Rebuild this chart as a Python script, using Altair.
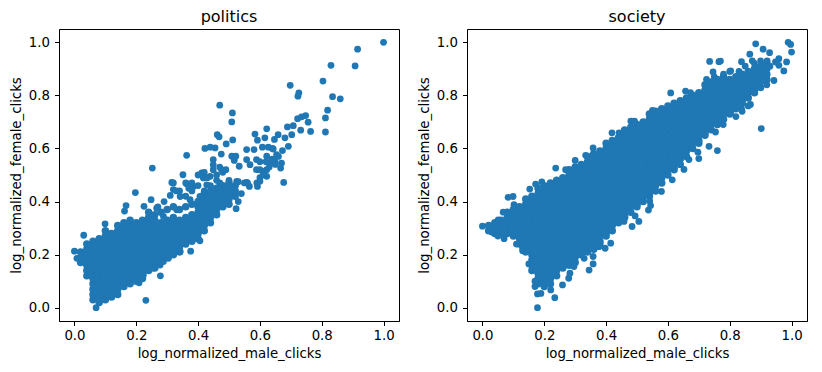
import altair as alt
import pandas as pd

# Columns hold female-click values in hundredths.
politics_columns = [.02,.04,.06,.08,.10,.12,.14,.16,.18,.20,.22,.24,.26,.28,.30,.32,.34,.36,.38,.40,.42,.44,.46,.48,.50,.52]
politics_female = [
 [17,19,21],
 [12,14,16,18,20,22,24],
 [3,5,7,9,11,13,15,17,19,21,23,25],
 [2,4,6,8,10,12,14,16,18,20,22,24,26],
 [3,5,7,9,11,13,15,17,19,21,23,25,27,29],
 [4,6,8,10,12,14,16,18,20,22,24,26,28],
 [5,7,9,11,13,15,17,19,21,23,25,27,29,31],
 [8,10,12,14,16,18,20,22,24,26,28,30,32],
 [9,11,13,15,17,19,21,23,25,27,29,31,33],
 [10,12,14,16,18,20,22,24,26,28,30,32],
 [11,13,15,17,19,21,23,25,27,29,31,33],
 [14,16,18,20,22,24,26,28,30,32,34,36],
 [15,17,19,21,23,25,27,29,31,33,35],
 [18,20,22,24,26,28,30,32,36],
 [19,21,23,25,27,29,31,33,37],
 [20,22,24,26,28,30,32,34,38],
 [21,23,25,27,29,31,33,37],
 [24,26,28,30,32,34,38],
 [25,27,29,31,33,35,39],
 [26,28,30,32,34,36,38,40],
 [29,31,33,35,37,39,41,43],
 [32,34,36,38,40,42,44],
 [35,37,39,41,43,45],
 [38,40,42,44,46],
 [39,41,43,45,47],
 [42,44,46],
]
politics_extra_x = [1.0,.916,.83,.908,.804,.698,.726,.723,.835,.86,.47,.511,.509,.819,.812,.812,.764,.756,.748,.735,.722,.708,.689,.703,.732,.622,.584,.592,.616,.681,.659,.647,.692,.673,.608,.627,.643,.557,.581,.462,.468,.512,.491,.439,.455,.422,.475,.363,.509,.522,.517,.449,.557,.589,.568,.533,.252,.351,.412,.449,.449,.476,.417,.439,.315,.32,.31,.363,.385,.197,.248,.167,.162,.099,.03,0,.008,.231,.278,.376,.406,.677,.592,.6,.622,.667,.67,.649,.622,.622,.589,.611,.638,.654,.557,.566,.523,.53,.503,.525,.492,.465,.428,.406,.342,.374,.225,.266,.288,.331,.288,.277,.253,.304,.223,.209,.342,.07,.54,.56,.50,.47,.40,.38,.44,.42,.38,.40,.42,.43,.46,.48,.49,.47,.46,.53,.55,.36,.37,.34,.32,.33,.36,.27,.29,.60,.62,.64,.65,.66,.63,.60,.61,.59,.64,.60]
politics_extra_y = [1.0,.974,.913,.911,.854,.838,.809,.797,.795,.787,.763,.734,.70,.744,.715,.662,.664,.699,.724,.719,.712,.686,.681,.652,.669,.674,.654,.631,.64,.64,.652,.634,.608,.592,.605,.605,.598,.596,.596,.652,.644,.632,.617,.605,.602,.6,.579,.574,.571,.571,.555,.558,.558,.558,.539,.533,.526,.501,.508,.539,.52,.52,.489,.495,.472,.445,.423,.467,.457,.434,.407,.385,.364,.316,.273,.213,.186,.028,.12,.213,.252,.472,.457,.476,.495,.526,.545,.552,.571,.52,.52,.514,.545,.577,.472,.457,.373,.40,.419,.476,.457,.451,.463,.419,.419,.407,.382,.375,.344,.369,.174,.161,.149,.186,.123,.094,.212,0,.43,.47,.48,.47,.46,.44,.46,.44,.47,.50,.51,.49,.50,.51,.52,.53,.48,.475,.47,.47,.45,.44,.47,.44,.42,.38,.40,.55,.55,.56,.54,.57,.53,.49,.50,.47,.60,.52]

society_columns = [.02,.04,.06,.08,.10,.12,.14,.16,.18,.20,.22,.24,.26,.28,.30,.32,.34,.36,.38,.40,.42,.44,.46,.48,.50,.52,.54,.56,.58,.60,.62,.64,.66,.68,.70,.72,.74,.76,.78,.80,.82,.84,.86,.88,.90,.92]
society_female = [
 [29,31],
 [28,30,32],
 [28,29,31,33],
 [28,30,32,34,36],
 [27,29,31,33,35,37],
 [24,26,28,30,32,34,36,38],
 [21,23,25,27,29,31,33,35,37,39,41],
 [14,16,18,20,22,24,26,28,30,32,34,36,38,40,42],
 [9,11,13,15,17,19,21,23,25,27,29,31,33,35,37,39,41,43,45],
 [8,10,12,14,16,18,20,22,24,26,28,30,32,34,36,38,40,42,44,46],
 [9,11,13,15,17,19,21,23,25,27,29,31,33,35,37,39,41,43,45,47],
 [12,14,16,18,20,22,24,26,28,30,32,34,36,38,40,42,44,46,48],
 [15,17,19,21,23,25,27,29,31,33,35,37,39,41,43,45,47,49],
 [16,18,20,22,24,26,28,30,32,34,36,38,40,42,44,46,48,50,52],
 [17,19,21,23,25,27,29,31,33,35,37,39,41,43,45,47,49,51,53],
 [20,22,24,26,28,30,32,34,36,38,40,42,44,46,48,50,52,54],
 [21,23,25,27,29,31,33,35,37,39,41,43,45,47,49,51,53,55,57],
 [22,24,26,28,30,32,34,36,38,40,42,44,46,48,50,52,54,56,58],
 [24,25,27,29,31,33,35,37,39,41,43,45,47,49,51,53,55,57,59],
 [27,28,30,32,34,36,38,40,42,44,46,48,50,52,54,56,58,60,62],
 [29,31,33,35,37,39,41,43,45,47,49,51,53,55,57,59,61,63],
 [32,34,36,38,40,42,44,46,48,50,52,54,56,58,60,62,64],
 [34,35,37,39,41,43,45,47,49,51,53,55,57,59,61,63,65,67],
 [36,38,40,42,44,46,48,50,52,54,56,58,60,62,64,66,68],
 [38,39,41,43,45,47,49,51,53,55,57,59,61,63,65,67,69],
 [40,42,44,46,48,50,52,54,56,58,60,62,64,66,68,70],
 [42,43,45,47,49,51,53,55,57,59,61,63,65,67,69,71,73],
 [44,46,48,50,52,54,56,58,60,62,64,66,68,70,72,74],
 [47,49,51,53,55,57,59,61,63,65,67,69,71,73,75],
 [50,52,54,56,58,60,62,64,66,68,70,72,74,76],
 [52,53,55,57,59,61,63,65,67,69,71,73,75,77],
 [54,56,58,60,62,64,66,68,70,72,74,76,78],
 [57,59,61,63,65,67,69,71,73,75,77,79],
 [60,62,64,66,68,70,72,74,76,78,80],
 [62,63,65,67,69,71,73,75,77,79,81],
 [65,66,68,70,72,74,76,78,80,82,84],
 [67,69,71,73,75,77,79,81,83,85],
 [69,70,72,74,76,78,80,82,84,86],
 [71,73,75,77,79,81,83,85,87],
 [73,74,76,78,80,82,84,86],
 [75,77,79,81,83,85,87],
 [77,78,80,82,84,86,88],
 [79,81,83,85,87,89],
 [81,82,84,86,88,90],
 [83,85,87,89,91],
 [86,88,90,92],
]
society_extra_x = [.989,.997,1.0,.884,.908,.929,.865,.735,.765,.77,.838,.984,.959,.948,.959,.975,.943,.90,.921,.873,.746,.803,.725,.609,.657,.673,.902,.867,.838,.803,.779,.754,.733,.76,.697,.70,.668,.652,.614,.579,.541,.544,.537,.506,.484,.458,.494,.415,.397,.377,.35,.358,.329,.358,.345,.296,.283,.279,.259,.234,.221,.178,.178,.189,0,.022,.051,.067,.083,.099,.102,.153,.172,.192,.237,.269,.3,.334,.358,.419,.442,.48,.492,.55,.571,.13,.15,.17,.17,.03,.05,.07,.11,.13,.92,.91,.86,.84,.82,.88,.85,.80,.78,.75,.83,.91,.93,.90]
society_extra_y = [1.0,.992,.963,.994,.974,.961,.955,.928,.927,.929,.927,.926,.938,.926,.913,.892,.856,.93,.93,.93,.888,.892,.86,.809,.816,.81,.675,.766,.751,.734,.69,.662,.608,.592,.586,.562,.558,.521,.482,.438,.402,.385,.368,.325,.306,.325,.346,.243,.224,.23,.224,.193,.186,.165,.142,.155,.13,.111,.086,.038,.067,0,.052,.054,.307,.293,.331,.36,.416,.419,.388,.447,.466,.474,.526,.52,.555,.574,.602,.659,.659,.703,.703,.743,.737,.215,.165,.10,.08,.285,.27,.26,.24,.225,.84,.86,.76,.74,.72,.92,.91,.89,.88,.87,.89,.91,.91,.89]

def cells(cols, rows):
    xs, ys = [], []
    for c, r in zip(cols, rows):
        for v in r:
            xs.append(c)
            ys.append(v / 100)
    return pd.DataFrame({"x": xs, "y": ys})

def panel(core, extra, title):
    ax = dict(values=[0, .2, .4, .6, .8, 1.0], format=".1f", grid=False, labelFontSize=13.3,
              titleFontSize=13.3, titleFontWeight="normal", labelColor="black", titleColor="black",
              domainColor="black", tickColor="black", tickSize=4.5,
              labelFont="DejaVu Sans", titleFont="DejaVu Sans")
    enc = dict(
        x=alt.X("x:Q", scale=alt.Scale(domain=[-.05, 1.05], nice=False, zero=False),
                axis=alt.Axis(title="log_normalized_male_clicks", labelPadding=3, titlePadding=5, labelFlush=False, **ax)),
        y=alt.Y("y:Q", scale=alt.Scale(domain=[-.05, 1.05], nice=False, zero=False),
                axis=alt.Axis(title="log_normalized_female_clicks", labelPadding=5, titlePadding=5, **ax)),
    )
    a = alt.Chart(core).mark_circle(size=56, opacity=1, color="#1f77b4").encode(**enc)
    b = alt.Chart(extra).mark_circle(size=46, opacity=1, color="#1f77b4").encode(**enc)
    return (a + b).properties(width=340, height=292,
        title=alt.TitleParams(title, fontSize=16, fontWeight="normal", font="DejaVu Sans", offset=4.5, color="black"))

chart = alt.hconcat(
    panel(cells(politics_columns, politics_female),
          pd.DataFrame({"x": politics_extra_x, "y": politics_extra_y}), "politics"),
    panel(cells(society_columns, society_female),
          pd.DataFrame({"x": society_extra_x, "y": society_extra_y}), "society"),
    spacing=16,
).configure_view(stroke="black", strokeWidth=1).properties(padding={"left": 0, "top": 0, "right": 0, "bottom": 5})

chart.save("out.html", embed_options={"renderer": "svg", "actions": False})
